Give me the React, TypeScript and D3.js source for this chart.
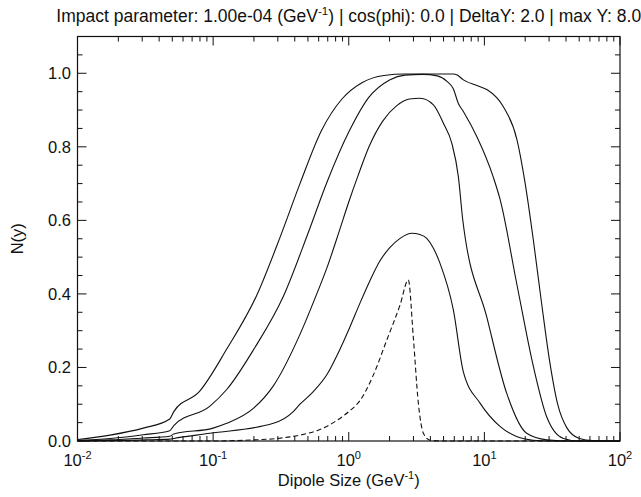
import React from 'react';
import * as d3 from 'd3';

const W = 641;
const H = 497;
const margin = { top: 36.5, right: 21, bottom: 56, left: 77.5 };

const xDomain: [number, number] = [0.01, 100];
const yDomain: [number, number] = [0, 1.1];
const xMajorExponents = ['-2', '-1', '0', '1', '2'];
const yMajorValues = [0, 0.2, 0.4, 0.6, 0.8, 1.0];
const yTickLabels = ['0.0', '0.2', '0.4', '0.6', '0.8', '1.0'];

// [dipole size r (GeV^-1), N(y)]
const curve1: [number, number][] = [
  [0.01, 0.004], [0.0174, 0.016], [0.0305, 0.035], [0.0479, 0.06], [0.0513, 0.08],
  [0.0794, 0.135], [0.126, 0.25], [0.209, 0.395], [0.316, 0.56], [0.437, 0.7],
  [0.631, 0.845], [0.891, 0.93], [1.26, 0.975], [1.82, 0.994], [2.6, 0.998],
  [5.89, 0.998], [6.31, 0.995], [7.0, 0.982], [8.91, 0.966], [10.5, 0.955],
  [13.8, 0.909], [17.4, 0.819], [20.0, 0.7], [22.9, 0.55], [26.3, 0.38],
  [30.2, 0.22], [34.7, 0.1], [40.7, 0.035], [50.1, 0.007], [63.1, 0.001], [100, 0],
];
const curve2: [number, number][] = [
  [0.01, 0.002], [0.0174, 0.007], [0.0305, 0.017], [0.0479, 0.028], [0.0513, 0.042],
  [0.0948, 0.095], [0.126, 0.14], [0.2, 0.25], [0.331, 0.395], [0.501, 0.565],
  [0.693, 0.705], [1.0, 0.84], [1.41, 0.935], [2.0, 0.982], [2.6, 0.995],
  [3.5, 0.997], [4.5, 0.993], [5.3, 0.978], [5.9, 0.958], [6.43, 0.918],
  [7.0, 0.896], [8.79, 0.828], [11.6, 0.719], [13.1, 0.655], [17.3, 0.429],
  [23.0, 0.202], [28.8, 0.066], [38.3, 0.007], [50.1, 0], [100, 0],
];
const curve3: [number, number][] = [
  [0.01, 0.001], [0.0174, 0.003], [0.0305, 0.008], [0.0479, 0.013], [0.0513, 0.019],
  [0.1, 0.035], [0.126, 0.048], [0.2, 0.09], [0.278, 0.15], [0.437, 0.29],
  [0.581, 0.4], [0.689, 0.47], [0.85, 0.57], [1.0, 0.65], [1.18, 0.725],
  [1.41, 0.8], [1.78, 0.87], [2.26, 0.912], [2.8, 0.93], [3.36, 0.932],
  [4.21, 0.914], [4.99, 0.864], [5.75, 0.81], [6.43, 0.719], [6.93, 0.601],
  [10.4, 0.338], [14.6, 0.13], [20.5, 0.021], [28.8, 0.003], [40, 0], [100, 0],
];
const curve4: [number, number][] = [
  [0.01, 0], [0.0316, 0.003], [0.0479, 0.005], [0.0513, 0.007], [0.0948, 0.021],
  [0.278, 0.048], [0.39, 0.08], [0.437, 0.1], [0.55, 0.135], [0.689, 0.18],
  [0.85, 0.245], [1.02, 0.31], [1.21, 0.375], [1.45, 0.44], [1.7, 0.49],
  [2.0, 0.525], [2.39, 0.551], [2.92, 0.565], [3.3, 0.562], [3.76, 0.551],
  [4.2, 0.525], [4.71, 0.483], [5.91, 0.356], [7.0, 0.188], [9.29, 0.103],
  [13.1, 0.039], [17.3, 0.012], [22.9, 0.002], [30, 0], [100, 0],
];
const curveDashed: [number, number][] = [
  [0.01, 0], [0.1, 0], [0.2, 0.003], [0.3, 0.007], [0.437, 0.016], [0.6, 0.03],
  [0.77, 0.05], [1.0, 0.08], [1.21, 0.11], [1.5, 0.175], [1.91, 0.275],
  [2.39, 0.37], [2.75, 0.438], [2.99, 0.284], [3.26, 0.103], [3.55, 0.021],
  [3.98, 0.002], [5, 0], [100, 0],
];

const solidCurves = [curve1, curve2, curve3, curve4];

const FONT = '"Liberation Sans", Arial, Helvetica, sans-serif';

export default function App() {
  const x = d3.scaleLog().domain(xDomain).range([margin.left, W - margin.right]);
  const y = d3.scaleLinear().domain(yDomain).range([H - margin.bottom, margin.top]);
  const line = d3
    .line<[number, number]>()
    .x((d) => x(d[0]))
    .y((d) => y(d[1]))
    .curve(d3.curveMonotoneX);

  const x0 = margin.left;
  const x1 = W - margin.right;
  const y0 = H - margin.bottom;
  const y1 = margin.top;

  const xTicks = x.ticks();
  const yMinor = d3.range(0, 1.1 + 1e-9, 0.05);
  const isMajorX = (v: number) => Math.abs(Math.log10(v) - Math.round(Math.log10(v))) < 1e-6;
  const isMajorY = (v: number) => Math.abs(v * 5 - Math.round(v * 5)) < 1e-6;
  const MAJ = 9;
  const MIN = 5;
  const cx = (x0 + x1) / 2;

  return (
    <svg
      width={W}
      height={H}
      style={{ position: 'absolute', left: 0, top: 0, background: '#fff', display: 'block' }}
      fontFamily={FONT}
    >
      <rect x={0} y={0} width={W} height={H} fill="#fff" />
      {/* title */}
      <text x={cx} y={22} textAnchor="middle" fontSize={17.5} fill="#111">
        Impact parameter: 1.00e-04 (GeV
        <tspan dy={-7} fontSize={11.5}>-1</tspan>
        <tspan dy={7}>) | cos(phi): 0.0 | DeltaY: 2.0 | max Y: 8.0</tspan>
      </text>

      {/* curves */}
      <g fill="none" stroke="#111" strokeWidth={1.1}>
        {solidCurves.map((c, i) => (
          <path key={i} d={line(c) || ''} />
        ))}
        <path d={line(curveDashed) || ''} strokeDasharray="5,3" />
      </g>

      {/* frame */}
      <rect x={x0} y={y1} width={x1 - x0} height={y0 - y1} fill="none" stroke="#111" strokeWidth={1.2} />

      {/* ticks */}
      <g stroke="#111" strokeWidth={1}>
        {xTicks.map((v, i) => {
          const len = isMajorX(v) ? MAJ : MIN;
          const px = x(v);
          return (
            <g key={i}>
              <line x1={px} x2={px} y1={y0} y2={y0 - len} />
              <line x1={px} x2={px} y1={y1} y2={y1 + len} />
            </g>
          );
        })}
        {yMinor.map((v, i) => {
          const len = isMajorY(v) ? MAJ : MIN;
          const py = y(v);
          return (
            <g key={i}>
              <line x1={x0} x2={x0 + len} y1={py} y2={py} />
              <line x1={x1} x2={x1 - len} y1={py} y2={py} />
            </g>
          );
        })}
      </g>

      {/* x tick labels */}
      {xMajorExponents.map((e) => (
        <text key={e} x={x(Math.pow(10, +e))} y={466} textAnchor="middle" fontSize={16.5} fill="#111">
          10
          <tspan dy={-7} fontSize={11}>{e}</tspan>
        </text>
      ))}

      {/* y tick labels */}
      {yMajorValues.map((v, i) => (
        <text key={v} x={71} y={y(v) + 6} textAnchor="end" fontSize={16.5} fill="#111">
          {yTickLabels[i]}
        </text>
      ))}

      {/* axis titles */}
      <text x={cx} y={486} textAnchor="middle" fontSize={16.5} fill="#111">
        Dipole Size (GeV
        <tspan dy={-7} fontSize={11}>-1</tspan>
        <tspan dy={7}>)</tspan>
      </text>
      <text
        transform={`translate(23, ${(y0 + y1) / 2}) rotate(-90)`}
        textAnchor="middle"
        fontSize={16.5}
        fill="#111"
      >
        N(y)
      </text>
    </svg>
  );
}
